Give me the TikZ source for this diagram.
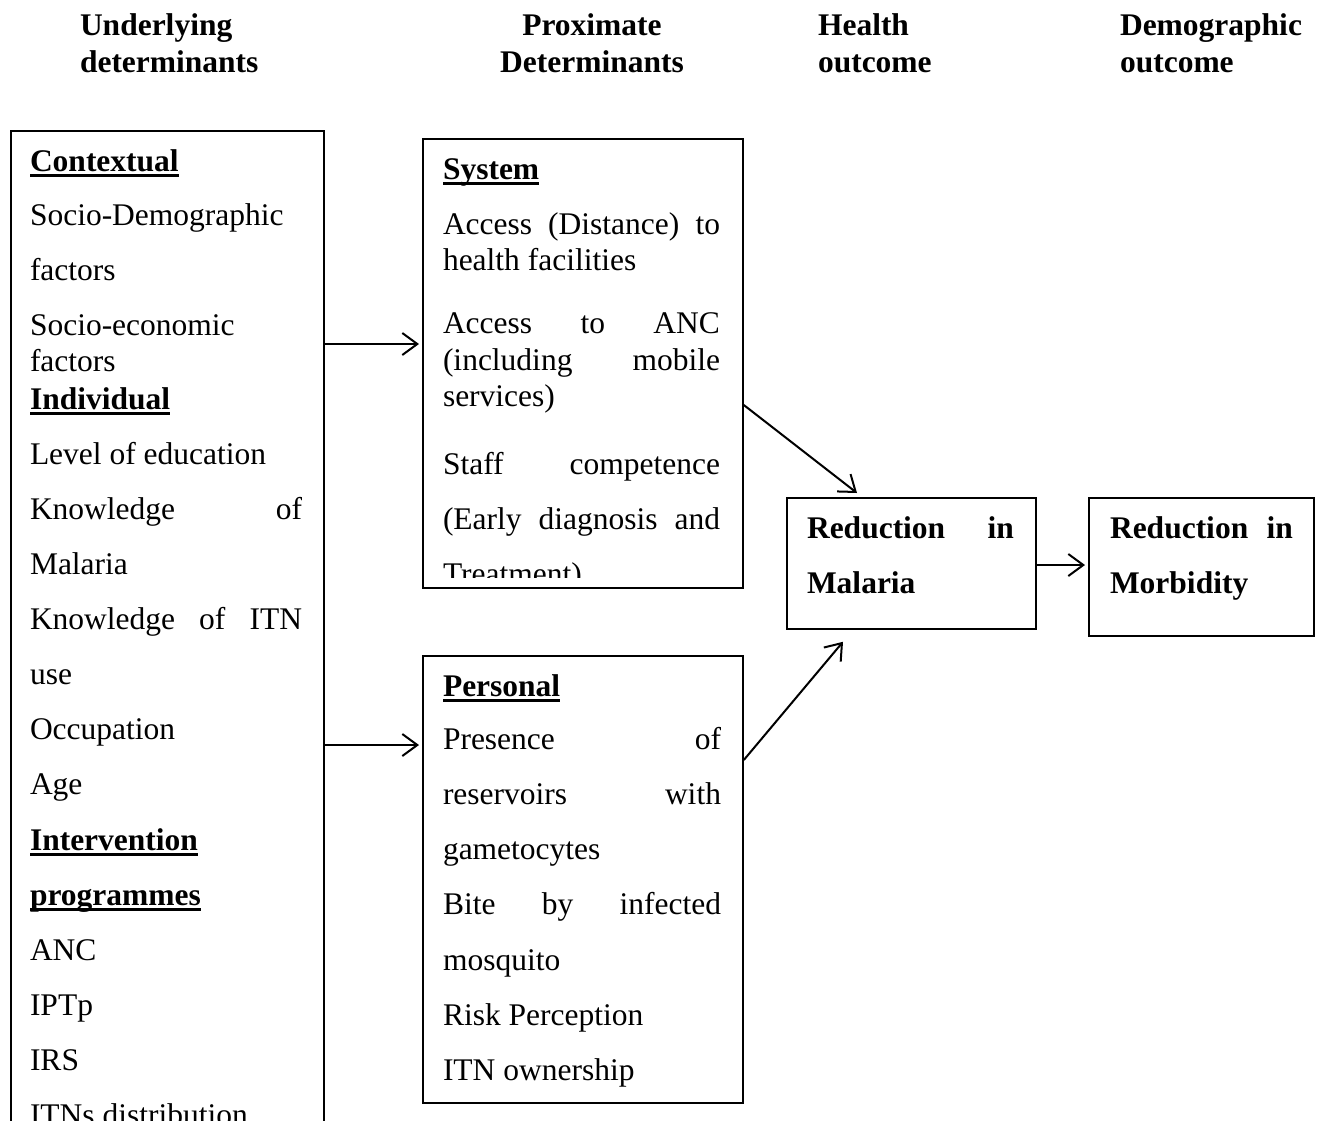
\documentclass[tikz,border=0pt]{standalone}
\usepackage{fontspec}
\setmainfont{Liberation Serif}
\usetikzlibrary{arrows.meta,calc}
\newcommand\ulb[1]{\setbox0\hbox{\bfseries #1}\rlap{\rule[-0.2em]{\wd0}{0.1em}}\box0}
\newcommand\jl[2]{\makebox[#1][s]{#2}}
\begin{document}
\begin{tikzpicture}[x=1pt,y=-1pt,
  tx/.style={anchor=base west, inner sep=0pt, outer sep=0pt, font=\fontsize{31.5}{36}\selectfont},
  hd/.style={anchor=base west, inner sep=0pt, outer sep=0pt, font=\fontsize{31.5}{36}\selectfont\bfseries},
  hdc/.style={hd, anchor=base},
  box/.style={draw, line width=1.8pt, anchor=north west, inner sep=0pt, rectangle},
  arr/.style={line width=2pt, -{Straight Barb[length=15pt,width=22pt]}}]
\path[use as bounding box] (0,0) rectangle (1317,1120);
\clip (0,0) rectangle (1317,1120);

% headers
\node[hd] (h1a) at (80,35) {Underlying};
\node[hd] (h1b) at (80,72) {determinants};
\node[hdc] (h2a) at (592,35) {Proximate};
\node[hdc] (h2b) at (592,72) {Determinants};
\node[hd] (h3a) at (818,35) {Health};
\node[hd] (h3b) at (818,72) {outcome};
\node[hd] (h4a) at (1120,35) {Demographic};
\node[hd] (h4b) at (1120,72) {outcome};

% boxes
\node[box, minimum width=313pt, minimum height=1010pt] (left) at (10,130) {};
\node[box, minimum width=320pt, minimum height=449pt] (system) at (422,138) {};
\node[box, minimum width=320pt, minimum height=447pt] (personal) at (422,655) {};
\node[box, minimum width=249pt, minimum height=131pt] (malaria) at (786,497) {};
\node[box, minimum width=225pt, minimum height=138pt] (morb) at (1088,497) {};

% left box text
\node[tx] (l1) at (30,171) {\ulb{Contextual}};
\node[tx] (l2) at (30,225) {Socio-Demographic};
\node[tx] (l3) at (30,280) {factors};
\node[tx] (l4) at (30,335) {Socio-economic};
\node[tx] (l5) at (30,371) {factors};
\node[tx] (l6) at (30,409) {\ulb{Individual}};
\node[tx] (l7) at (30,464) {Level of education};
\node[tx] (l8) at (30,519) {\jl{272pt}{Knowledge of}};
\node[tx] (l9) at (30,574) {Malaria};
\node[tx] (l10) at (30,629) {\jl{272pt}{Knowledge of ITN}};
\node[tx] (l11) at (30,684) {use};
\node[tx] (l12) at (30,739) {Occupation};
\node[tx] (l13) at (30,794) {Age};
\node[tx] (l14) at (30,850) {\ulb{Intervention}};
\node[tx] (l15) at (30,905) {\ulb{programmes}};
\node[tx] (l16) at (30,960) {ANC};
\node[tx] (l17) at (30,1015) {IPTp};
\node[tx] (l18) at (30,1070) {IRS};
\node[tx] (l19) at (30,1125) {ITNs distribution};

% system box text
\begin{scope}
\clip (422,138) rectangle (742,577);
\node[tx] (s1) at (443,179) {\ulb{System}};
\node[tx] (s2) at (443,234) {\jl{277pt}{Access (Distance) to}};
\node[tx] (s3) at (443,270) {health facilities};
\node[tx] (s4) at (443,333) {\jl{277pt}{Access to ANC}};
\node[tx] (s5) at (443,370) {\jl{277pt}{(including mobile}};
\node[tx] (s6) at (443,406) {services)};
\node[tx] (s7) at (443,474) {\jl{277pt}{Staff competence}};
\node[tx] (s8) at (443,529) {\jl{277pt}{(Early diagnosis and}};
\node[tx] (s9) at (443,584) {Treatment)};
\end{scope}

% personal box text
\node[tx] (p1) at (443,696) {\ulb{Personal}};
\node[tx] (p2) at (443,749) {\jl{278pt}{Presence of}};
\node[tx] (p3) at (443,804) {\jl{278pt}{reservoirs with}};
\node[tx] (p4) at (443,859) {gametocytes};
\node[tx] (p5) at (443,914) {\jl{278pt}{Bite by infected}};
\node[tx] (p6) at (443,970) {mosquito};
\node[tx] (p7) at (443,1025) {Risk Perception};
\node[tx] (p8) at (443,1080) {ITN ownership};

% outcome boxes text
\node[hd] (m1) at (807,538) {\jl{207pt}{Reduction in}};
\node[hd] (m2) at (807,593) {Malaria};
\node[hd] (d1) at (1110,538) {\jl{183pt}{Reduction in}};
\node[hd] (d2) at (1110,593) {Morbidity};

% connectors
\coordinate (ya) at (0,344);
\coordinate (yb) at (0,745);
\coordinate (yc) at (0,405);
\coordinate (yd) at (0,760);
\coordinate (ye) at (0,565);
\coordinate (xa) at (857,0);
\coordinate (xb) at (843,0);
\draw[arr, shorten >=3pt] (left.east |- ya) -- (system.west |- ya);
\draw[arr, shorten >=3pt] (left.east |- yb) -- (personal.west |- yb);
\draw[arr] (system.east |- yc) -- ($(malaria.north -| xa)+(0,-4)$);
\draw[arr] (personal.east |- yd) -- ($(malaria.south -| xb)+(0,12)$);
\draw[arr, shorten >=3pt] (malaria.east |- ye) -- (morb.west |- ye);
\end{tikzpicture}
\end{document}
